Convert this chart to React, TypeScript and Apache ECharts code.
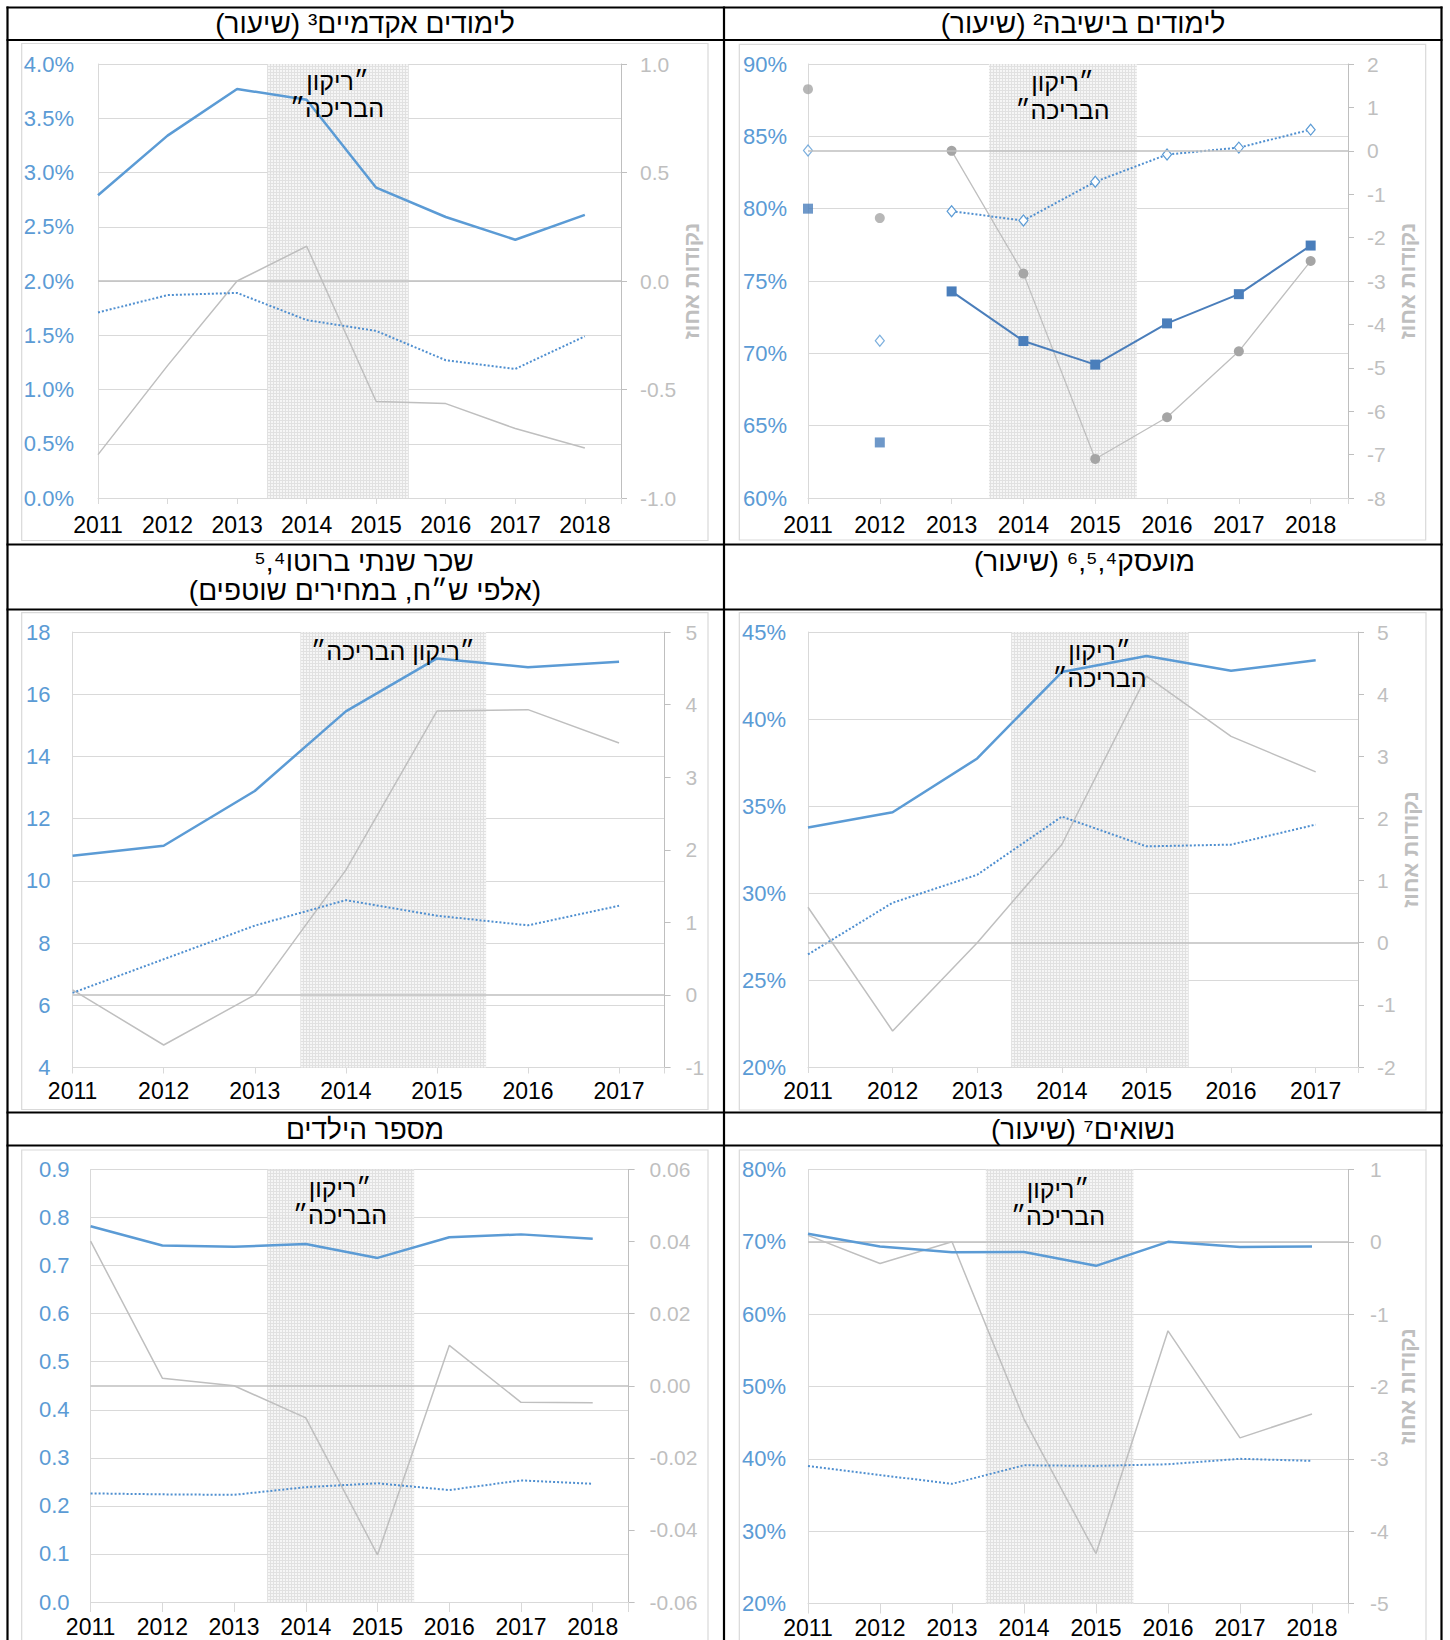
import React, { useEffect, useRef } from 'react';
import * as echarts from 'echarts';

// ---------- DATA ----------
const years8 = [2011, 2012, 2013, 2014, 2015, 2016, 2017, 2018];
const years7 = [2011, 2012, 2013, 2014, 2015, 2016, 2017];

// Panel 1: academic studies (rate, %)
const academicMain = [2.79, 3.34, 3.77, 3.67, 2.86, 2.59, 2.38, 2.61];
const academicCompare = [1.71, 1.87, 1.89, 1.64, 1.54, 1.27, 1.19, 1.49];
const academicGap = [-0.8, -0.39, 0.0, 0.16, -0.555, -0.565, -0.68, -0.77];

// Panel 2: yeshiva studies (rate, %)
const yeshivaMain = [80.0, 63.84, 74.28, 70.85, 69.22, 72.07, 74.09, 77.45];
const yeshivaCompare = [84.02, 70.87, 79.82, 79.18, 81.86, 83.74, 84.22, 85.46];
const yeshivaGap = [1.42, -1.55, 0.0, -2.83, -7.1, -6.14, -4.62, -2.54];
const yeshivaJoinedFromIndex = 2; // points before this index are not joined by a line

// Panel 3: gross annual wage (thousand NIS)
const wageMain = [10.81, 11.13, 12.89, 15.45, 17.15, 16.87, 17.04];
const wageCompare = [6.4, 7.48, 8.56, 9.38, 8.88, 8.57, 9.2];
const wageGap = [0.07, -0.69, 0.0, 1.72, 3.91, 3.93, 3.47];

// Panel 4: employed (rate, %)
const employedMain = [33.76, 34.64, 37.73, 42.7, 43.62, 42.77, 43.37];
const employedCompare = [26.47, 29.44, 31.05, 34.39, 32.68, 32.78, 33.93];
const employedGap = [0.57, -1.42, 0.0, 1.58, 4.29, 3.32, 2.75];

// Panel 5: number of children
const childrenMain = [0.782, 0.742, 0.739, 0.745, 0.716, 0.759, 0.765, 0.756];
const childrenCompare = [0.226, 0.224, 0.223, 0.239, 0.247, 0.233, 0.253, 0.246];
const childrenGap = [0.0401, 0.0021, 0.0, -0.0089, -0.0469, 0.0112, -0.0046, -0.0047];

// Panel 6: married (rate, %)
const marriedMain = [71.12, 69.35, 68.55, 68.6, 66.68, 70.0, 69.3, 69.35];
const marriedCompare = [39.02, 37.76, 36.54, 39.11, 39.02, 39.25, 40.0, 39.72];
const marriedGap = [0.09, -0.3, 0.0, -2.45, -4.31, -1.23, -2.71, -2.38];

// Texts
const RLM = '\u200F';
const rtl = (s: string) => RLM + s + RLM;
const titleAcademic = 'לימודים אקדמיים³ (שיעור)';
const titleYeshiva = 'לימודים בישיבה² (שיעור)';
const titleWage1 = 'שכר שנתי ברוטו⁵,⁴';
const titleWage2 = '(אלפי ש״ח, במחירים שוטפים)';
const titleEmployed = 'מועסק⁶,⁵,⁴ (שיעור)';
const titleChildren = 'מספר הילדים';
const titleMarried = 'נשואים⁷ (שיעור)';
const poolLine1 = '״ריקון';
const poolLine2 = 'הבריכה״';
const poolOneLine = '״ריקון הבריכה״';
const gapAxisName = 'נקודות אחוז';

// ---------- STYLE ----------
const FONT = "'Liberation Sans', Arial, 'DejaVu Sans', sans-serif";
const BLUE = '#5B9BD5';
const DOTBLUE = '#4F8FD0';
const DARKBLUE = '#4A7EBB';
const GRAYLINE = '#BFBFBF';
const GRAYLABEL = '#BFBFBF';
const GRIDC = '#D9D9D9';

type Panel = {
  years: number[];
  main: number[];
  compare: number[];
  gap: number[];
  grid: { left: number; top: number; width: number; height: number };
  xMax: number;
  left: { min: number; max: number; interval: number; fmt: (v: number) => string; margin: number };
  right: { min: number; max: number; interval: number; fmt: (v: number) => string; margin: number };
  xMargin: number;
  xTick: number;
  shade: [number, number];
  axisName: boolean;
  nameGap: number;
  markers?: boolean;
};

const pct1 = (v: number) => v.toFixed(1) + '%';
const pct0 = (v: number) => v.toFixed(0) + '%';
const f0 = (v: number) => v.toFixed(0);
const f1 = (v: number) => v.toFixed(1);
const f2 = (v: number) => v.toFixed(2);

const panels: Panel[] = [
  {
    years: years8, main: academicMain, compare: academicCompare, gap: academicGap,
    grid: { left: 98, top: 64, width: 523, height: 434 }, xMax: 2018.52,
    left: { min: 0, max: 4, interval: 0.5, fmt: pct1, margin: 24 },
    right: { min: -1, max: 1, interval: 0.5, fmt: f1, margin: 19 },
    xMargin: 15, xTick: 6, shade: [2013.43, 2015.47], axisName: true, nameGap: 58,
  },
  {
    years: years8, main: yeshivaMain, compare: yeshivaCompare, gap: yeshivaGap,
    grid: { left: 808, top: 64, width: 540, height: 434 }, xMax: 2018.52,
    left: { min: 60, max: 90, interval: 5, fmt: pct0, margin: 21 },
    right: { min: -8, max: 2, interval: 1, fmt: f0, margin: 19 },
    xMargin: 15, xTick: 6, shade: [2013.52, 2015.58], axisName: true, nameGap: 48, markers: true,
  },
  {
    years: years7, main: wageMain, compare: wageCompare, gap: wageGap,
    grid: { left: 72.6, top: 632, width: 592, height: 435.5 }, xMax: 2017.5,
    left: { min: 4, max: 18, interval: 2, fmt: f0, margin: 22 },
    right: { min: -1, max: 5, interval: 1, fmt: f0, margin: 21 },
    xMargin: 12, xTick: 6, shade: [2013.5, 2015.54], axisName: false, nameGap: 40,
  },
  {
    years: years7, main: employedMain, compare: employedCompare, gap: employedGap,
    grid: { left: 808, top: 632, width: 550, height: 435 }, xMax: 2017.5,
    left: { min: 20, max: 45, interval: 5, fmt: pct0, margin: 22 },
    right: { min: -2, max: 5, interval: 1, fmt: f0, margin: 19 },
    xMargin: 12, xTick: 6, shade: [2013.4, 2015.5], axisName: true, nameGap: 40,
  },
  {
    years: years8, main: childrenMain, compare: childrenCompare, gap: childrenGap,
    grid: { left: 90.6, top: 1169.5, width: 538, height: 432.5 }, xMax: 2018.5,
    left: { min: 0, max: 0.9, interval: 0.1, fmt: f1, margin: 21 },
    right: { min: -0.06, max: 0.06, interval: 0.02, fmt: f2, margin: 21 },
    xMargin: 13, xTick: 10, shade: [2013.46, 2015.51], axisName: false, nameGap: 40,
  },
  {
    years: years8, main: marriedMain, compare: marriedCompare, gap: marriedGap,
    grid: { left: 808, top: 1169.5, width: 540, height: 434 }, xMax: 2018.5,
    left: { min: 20, max: 80, interval: 10, fmt: pct0, margin: 22 },
    right: { min: -5, max: 1, interval: 1, fmt: f0, margin: 22 },
    xMargin: 13, xTick: 10, shade: [2013.47, 2015.52], axisName: true, nameGap: 48,
  },
];

const pairs = (xs: number[], vs: (number | null)[]) => xs.map((x, i) => [x, vs[i] === null ? '-' : vs[i]]);

function makeShadePattern(): any {
  try {
    const c = document.createElement('canvas');
    c.width = 3;
    c.height = 3;
    const ctx = c.getContext('2d');
    if (!ctx) return 'rgba(200,200,200,0.3)';
    ctx.fillStyle = '#F4F4F4';
    ctx.fillRect(0, 0, 3, 3);
    ctx.fillStyle = '#DCDCDC';
    ctx.fillRect(0, 0, 3, 1);
    ctx.fillRect(0, 0, 1, 3);
    return { image: c, repeat: 'repeat' };
  } catch (e) {
    return 'rgba(200,200,200,0.3)';
  }
}

function buildOption() {
  const grid: any[] = [];
  const xAxis: any[] = [];
  const yAxis: any[] = [];
  const series: any[] = [];
  const shadeFill = makeShadePattern();

  panels.forEach((p, i) => {
    grid.push({ ...p.grid, containLabel: false });
    xAxis.push({
      type: 'value', gridIndex: i, min: 2011, max: p.xMax, interval: 1,
      axisLine: { show: true, onZero: false, lineStyle: { color: GRIDC, width: 1 } },
      axisTick: { show: true, length: p.xTick, lineStyle: { color: GRIDC } },
      splitLine: { show: false },
      axisLabel: {
        color: '#000', fontSize: 23, fontFamily: FONT, margin: p.xMargin,
        showMaxLabel: true, showMinLabel: true,
        formatter: (v: number) => (Math.abs(v - Math.round(v)) < 1e-6 ? String(Math.round(v)) : ''),
      },
    });
    yAxis.push({
      type: 'value', gridIndex: i, position: 'left', min: p.left.min, max: p.left.max, interval: p.left.interval,
      axisLine: { show: true, onZero: false, lineStyle: { color: GRIDC } },
      axisTick: { show: false },
      splitLine: { show: true, lineStyle: { color: GRIDC, width: 1 } },
      axisLabel: { color: BLUE, fontSize: 22, fontFamily: FONT, margin: p.left.margin, formatter: p.left.fmt },
    });
    yAxis.push({
      type: 'value', gridIndex: i, position: 'right', min: p.right.min, max: p.right.max, interval: p.right.interval,
      axisLine: { show: true, onZero: false, lineStyle: { color: GRAYLINE } },
      axisTick: { show: true, length: 6, lineStyle: { color: GRAYLINE } },
      splitLine: { show: false },
      axisLabel: { color: GRAYLABEL, fontSize: 21, fontFamily: FONT, margin: p.right.margin, formatter: p.right.fmt },
      name: p.axisName ? rtl(gapAxisName) : '',
      nameLocation: 'middle', nameRotate: 90, nameGap: p.nameGap,
      nameTextStyle: { color: GRAYLABEL, fontSize: 22, fontWeight: 'bold', fontFamily: FONT },
    });

    const li = 2 * i;
    const ri = 2 * i + 1;
    const shadeArea = {
      silent: true,
      itemStyle: { color: shadeFill, opacity: 0.85 },
      data: [[{ xAxis: p.shade[0] }, { xAxis: p.shade[1] }]],
    };
    const zeroLine = {
      silent: true, symbol: ['none', 'none'], label: { show: false },
      lineStyle: { color: GRAYLINE, width: 1.5, type: 'solid' },
      emphasis: { disabled: true },
      data: [{ yAxis: 0 }],
    };

    if (!p.markers) {
      series.push({
        type: 'line', xAxisIndex: i, yAxisIndex: ri, data: pairs(p.years, p.gap),
        symbol: 'none', lineStyle: { color: GRAYLINE, width: 1.5 }, z: 3,
        markLine: zeroLine,
      });
      series.push({
        type: 'line', xAxisIndex: i, yAxisIndex: li, data: pairs(p.years, p.compare),
        symbol: 'none', lineStyle: { color: DOTBLUE, width: 2, type: 'dotted' }, z: 4,
      });
      series.push({
        type: 'line', xAxisIndex: i, yAxisIndex: li, data: pairs(p.years, p.main),
        symbol: 'none', lineStyle: { color: BLUE, width: 2.5 }, z: 5,
        markArea: shadeArea,
      });
    } else {
      const k = yeshivaJoinedFromIndex;
      const joined = (arr: number[]) => arr.map((v, j) => (j >= k ? v : null));
      const loose = (arr: number[]) => p.years.slice(0, k).map((x, j) => [x, arr[j]]);
      // gray circles (right axis)
      series.push({
        type: 'line', xAxisIndex: i, yAxisIndex: ri, data: pairs(p.years, joined(p.gap)),
        symbol: 'circle', symbolSize: 10, itemStyle: { color: '#A5A5A5' },
        lineStyle: { color: GRAYLINE, width: 1.3 }, z: 3, markLine: zeroLine, markArea: shadeArea,
      });
      series.push({
        type: 'scatter', xAxisIndex: i, yAxisIndex: ri, data: loose(p.gap),
        symbol: 'circle', symbolSize: 10, itemStyle: { color: '#A5A5A5' }, z: 3,
      });
      // dotted with hollow diamonds
      series.push({
        type: 'line', xAxisIndex: i, yAxisIndex: li, data: pairs(p.years, joined(p.compare)),
        symbol: 'diamond', symbolSize: [9, 11], showSymbol: true,
        itemStyle: { color: '#fff', borderColor: BLUE, borderWidth: 1.2 },
        lineStyle: { color: DOTBLUE, width: 2, type: 'dotted' }, z: 4,
      });
      series.push({
        type: 'scatter', xAxisIndex: i, yAxisIndex: li, data: loose(p.compare),
        symbol: 'diamond', symbolSize: [9, 11],
        itemStyle: { color: '#fff', borderColor: BLUE, borderWidth: 1.2 }, z: 4,
      });
      // squares
      series.push({
        type: 'line', xAxisIndex: i, yAxisIndex: li, data: pairs(p.years, joined(p.main)),
        symbol: 'rect', symbolSize: 10, itemStyle: { color: DARKBLUE },
        lineStyle: { color: DARKBLUE, width: 2 }, z: 5,
      });
      series.push({
        type: 'scatter', xAxisIndex: i, yAxisIndex: li, data: loose(p.main),
        symbol: 'rect', symbolSize: 10, itemStyle: { color: DARKBLUE }, z: 5,
      });
    }
  });

  const graphic: any[] = [];
  // inner chart frames
  const frames = [
    [21.7, 43.5, 686.3, 497],
    [739.3, 44.3, 686.4, 495.7],
    [21.7, 612.7, 686.3, 496.8],
    [739.3, 612.7, 686.7, 497.3],
    [21.7, 1150, 686.3, 520],
    [739.3, 1150, 686.7, 520],
  ];
  frames.forEach(([x, y, w, h]) =>
    graphic.push({ type: 'rect', shape: { x, y, width: w, height: h }, style: { fill: 'none', stroke: GRIDC, lineWidth: 1.2 }, silent: true })
  );
  // table lines
  const hLines = [7.5, 40, 544.5, 609.5, 1112.5, 1145.5];
  hLines.forEach((y) =>
    graphic.push({ type: 'line', shape: { x1: 6.5, y1: y, x2: 1442.5, y2: y }, style: { stroke: '#000', lineWidth: 2.2 }, silent: true })
  );
  const vLines = [7.5, 724, 1441.5];
  vLines.forEach((x) =>
    graphic.push({ type: 'line', shape: { x1: x, y1: 6.5, x2: x, y2: 1650 }, style: { stroke: '#000', lineWidth: 2.2 }, silent: true })
  );

  const txt = (text: string, x: number, y: number, size: number) => ({
    type: 'text', x, y, silent: true, z: 50,
    style: { text: rtl(text), fill: '#000', fontSize: size, fontFamily: FONT, align: 'center', verticalAlign: 'middle' },
  });
  // titles
  graphic.push(txt(titleAcademic, 365, 23.5, 28));
  graphic.push(txt(titleYeshiva, 1083, 23.5, 28));
  graphic.push(txt(titleWage1, 364, 561, 28));
  graphic.push(txt(titleWage2, 365, 590, 28));
  graphic.push(txt(titleEmployed, 1084.5, 561, 28));
  graphic.push(txt(titleChildren, 365, 1129, 28));
  graphic.push(txt(titleMarried, 1083, 1129, 28));
  // pool annotations
  graphic.push(txt(poolLine1, 337.5, 81, 25));
  graphic.push(txt(poolLine2, 337, 108, 25));
  graphic.push(txt(poolLine1, 1062.5, 82, 25));
  graphic.push(txt(poolLine2, 1062.5, 110, 25));
  graphic.push(txt(poolOneLine, 393, 650.5, 25));
  graphic.push(txt(poolLine1, 1099.5, 651, 25));
  graphic.push(txt(poolLine2, 1099.5, 678, 25));
  graphic.push(txt(poolLine1, 340, 1187.5, 25));
  graphic.push(txt(poolLine2, 340, 1215, 25));
  graphic.push(txt(poolLine1, 1058, 1189, 25));
  graphic.push(txt(poolLine2, 1058, 1216, 25));

  return {
    animation: false,
    backgroundColor: '#ffffff',
    textStyle: { fontFamily: FONT },
    grid, xAxis, yAxis, series, graphic,
  };
}

export default function App() {
  const ref = useRef<HTMLDivElement>(null);
  useEffect(() => {
    if (!ref.current) return;
    const chart = echarts.init(ref.current, undefined, { renderer: 'svg' });
    chart.setOption(buildOption() as any);
    return () => chart.dispose();
  }, []);
  return <div ref={ref} style={{ position: 'absolute', left: 0, top: 0, width: 1450, height: 1640 }} />;
}
